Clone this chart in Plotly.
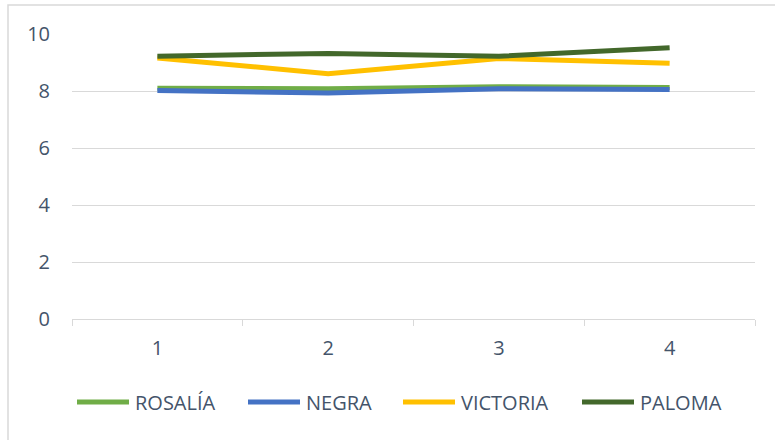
import plotly.graph_objects as go

categories = ["1", "2", "3", "4"]
rosalia = [8.10, 8.08, 8.15, 8.12]
negra = [8.02, 7.93, 8.08, 8.05]
victoria = [9.16, 8.61, 9.14, 8.97]
paloma = [9.22, 9.32, 9.22, 9.52]

series_names = ["ROSALÍA", "NEGRA", "VICTORIA", "PALOMA"]
series_values = [rosalia, negra, victoria, paloma]
series_colors = ["#70AD47", "#4472C4", "#FFC000", "#43682B"]

FONT = "Open Sans"
TXT = "#44546A"
FS = 20

fig = go.Figure()
for name, vals, col in zip(series_names, series_values, series_colors):
    fig.add_trace(go.Scatter(
        x=categories, y=vals, name=name, mode="lines",
        line=dict(color=col, width=5), showlegend=False,
    ))

L, R, T, B = 72, 20, 34, 121
W, H = 775, 440
pw, ph = W - L - R, H - T - B


def px_x(px):
    return (px - L) / pw


def px_y(py):
    return (T + ph - py) / ph


# custom legend (long line swatches like the reference)
legend_line_x = [75, 246, 401, 580]
LEG_Y = 402
shapes = [dict(
    type="rect", xref="paper", yref="paper",
    x0=px_x(8), x1=px_x(W + 10),
    y0=px_y(H + 10), y1=px_y(5),
    line=dict(color="#D9D9D9", width=1.5), fillcolor="rgba(0,0,0,0)",
    layer="below",
)]
annotations = []
for name, col, lx in zip(series_names, series_colors, legend_line_x):
    shapes.append(dict(
        type="line", xref="paper", yref="paper",
        x0=px_x(lx + 2), x1=px_x(lx + 54), y0=px_y(LEG_Y), y1=px_y(LEG_Y),
        line=dict(color=col, width=5),
    ))
    annotations.append(dict(
        text=name, xref="paper", yref="paper", x=px_x(lx + 58), y=px_y(LEG_Y),
        xanchor="left", yanchor="middle", showarrow=False,
        font=dict(family=FONT, size=FS, color=TXT),
    ))

fig.update_layout(
    width=W, height=H,
    margin=dict(l=L, r=R, t=T, b=B, pad=0),
    paper_bgcolor="white", plot_bgcolor="white",
    font=dict(family=FONT, size=FS, color=TXT),
    showlegend=False,
    xaxis=dict(
        type="category", range=[-0.5, 3.5],
        tickson="boundaries", ticks="outside", ticklen=6,
        tickcolor="#D9D9D9", showline=True, linecolor="#D9D9D9", linewidth=1,
        showgrid=False, ticklabelstandoff=11,
        tickfont=dict(family=FONT, size=FS, color=TXT),
    ),
    yaxis=dict(
        range=[0, 10], dtick=2, showgrid=True, gridcolor="#D9D9D9",
        gridwidth=1, zeroline=False, showline=False,
        ticklabelstandoff=21,
        tickfont=dict(family=FONT, size=FS, color=TXT),
    ),
    shapes=shapes,
    annotations=annotations,
)

fig.write_html(
    "out.html",
    config={"displayModeBar": False},
    post_script="document.body.style.margin='0';document.body.style.overflow='hidden';",
)
